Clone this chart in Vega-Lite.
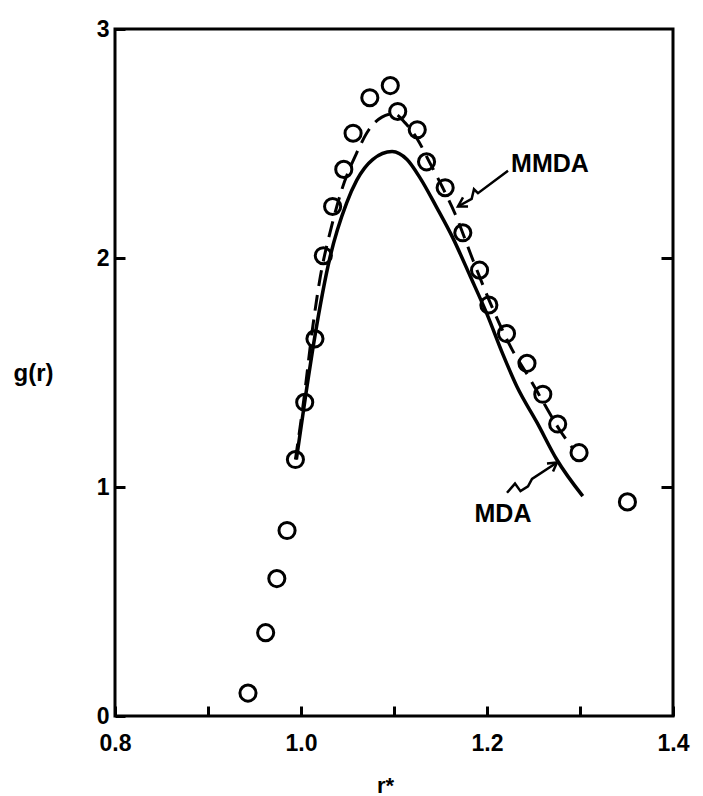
{
  "$schema": "https://vega.github.io/schema/vega-lite/v6.json",
  "width": 558,
  "height": 687,
  "autosize": {"type": "none"},
  "padding": {"left": 115, "top": 29, "right": 30, "bottom": 80},
  "background": "white",
  "config": {
    "view": {"stroke": "black", "strokeWidth": 3},
    "font": "Liberation Sans"
  },
  "datasets": {
    "obs": [
      {"x": 0.943, "y": 0.10}, {"x": 0.962, "y": 0.364}, {"x": 0.974, "y": 0.60},
      {"x": 0.985, "y": 0.81}, {"x": 0.994, "y": 1.12}, {"x": 1.004, "y": 1.37},
      {"x": 1.015, "y": 1.647}, {"x": 1.024, "y": 2.01}, {"x": 1.034, "y": 2.225},
      {"x": 1.046, "y": 2.387}, {"x": 1.056, "y": 2.545}, {"x": 1.074, "y": 2.70},
      {"x": 1.096, "y": 2.753}, {"x": 1.104, "y": 2.64}, {"x": 1.125, "y": 2.56},
      {"x": 1.135, "y": 2.42}, {"x": 1.155, "y": 2.307}, {"x": 1.174, "y": 2.11},
      {"x": 1.192, "y": 1.947}, {"x": 1.202, "y": 1.795}, {"x": 1.221, "y": 1.67},
      {"x": 1.243, "y": 1.54}, {"x": 1.260, "y": 1.405}, {"x": 1.276, "y": 1.275},
      {"x": 1.299, "y": 1.15}, {"x": 1.351, "y": 0.935}
    ],
    "mmda": [
      {"x": 0.994, "y": 1.12}, {"x": 1.003, "y": 1.38}, {"x": 1.012, "y": 1.68},
      {"x": 1.020, "y": 1.90}, {"x": 1.033, "y": 2.14}, {"x": 1.044, "y": 2.30},
      {"x": 1.060, "y": 2.46}, {"x": 1.073, "y": 2.56}, {"x": 1.087, "y": 2.615},
      {"x": 1.100, "y": 2.63}, {"x": 1.112, "y": 2.59}, {"x": 1.125, "y": 2.52},
      {"x": 1.138, "y": 2.42}, {"x": 1.152, "y": 2.31}, {"x": 1.166, "y": 2.19},
      {"x": 1.185, "y": 1.99}, {"x": 1.205, "y": 1.79}, {"x": 1.227, "y": 1.60},
      {"x": 1.245, "y": 1.48}, {"x": 1.262, "y": 1.36}, {"x": 1.278, "y": 1.25},
      {"x": 1.292, "y": 1.17}
    ],
    "mda": [
      {"x": 0.995, "y": 1.12}, {"x": 1.005, "y": 1.40}, {"x": 1.015, "y": 1.66},
      {"x": 1.031, "y": 2.00}, {"x": 1.049, "y": 2.24}, {"x": 1.060, "y": 2.34},
      {"x": 1.077, "y": 2.43}, {"x": 1.098, "y": 2.465}, {"x": 1.114, "y": 2.43},
      {"x": 1.128, "y": 2.35}, {"x": 1.146, "y": 2.22}, {"x": 1.163, "y": 2.09},
      {"x": 1.182, "y": 1.92}, {"x": 1.200, "y": 1.755}, {"x": 1.217, "y": 1.58},
      {"x": 1.232, "y": 1.44}, {"x": 1.254, "y": 1.28}, {"x": 1.275, "y": 1.12},
      {"x": 1.303, "y": 0.96}
    ],
    "arrows": [
      {"seg": "a1", "o": 1, "x": 1.2226, "y": 2.381},
      {"seg": "a1", "o": 2, "x": 1.1903, "y": 2.283},
      {"seg": "a1", "o": 3, "x": 1.1860, "y": 2.300},
      {"seg": "a1", "o": 4, "x": 1.1835, "y": 2.258},
      {"seg": "a1", "o": 5, "x": 1.1688, "y": 2.225},
      {"seg": "a1h", "o": 1, "x": 1.1796, "y": 2.225},
      {"seg": "a1h", "o": 2, "x": 1.1688, "y": 2.225},
      {"seg": "a1h", "o": 3, "x": 1.1742, "y": 2.265},
      {"seg": "a2", "o": 1, "x": 1.2215, "y": 0.975},
      {"seg": "a2", "o": 2, "x": 1.2301, "y": 1.015},
      {"seg": "a2", "o": 3, "x": 1.2360, "y": 0.982},
      {"seg": "a2", "o": 4, "x": 1.2441, "y": 1.003},
      {"seg": "a2", "o": 5, "x": 1.2484, "y": 1.035},
      {"seg": "a2", "o": 6, "x": 1.2753, "y": 1.107},
      {"seg": "a2h", "o": 1, "x": 1.2645, "y": 1.103},
      {"seg": "a2h", "o": 2, "x": 1.2753, "y": 1.107},
      {"seg": "a2h", "o": 3, "x": 1.2710, "y": 1.068}
    ],
    "labels": [
      {"x": 1.2677, "y": 2.412, "label": "MMDA"},
      {"x": 1.2172, "y": 0.883, "label": "MDA"}
    ]
  },
  "encoding": {
    "x": {
      "field": "x", "type": "quantitative",
      "scale": {"domain": [0.8, 1.4], "nice": false, "zero": false},
      "axis": {
        "orient": "bottom",
        "values": [0.8, 0.9, 1.0, 1.1, 1.2, 1.3, 1.4],
        "labelExpr": "(round(datum.value*10) % 2 == 0) ? format(datum.value, '.1f') : ''",
        "domain": false, "grid": false,
        "tickSize": -10, "tickWidth": 3, "tickColor": "black",
        "labelPadding": 26, "labelFontSize": 23, "labelFontWeight": "bold",
        "labelColor": "black", "labelDx": 6, "labelFlush": false, "labelOverlap": false,
        "title": "r*", "titleFontSize": 22, "titleFontWeight": "bold", "titleColor": "black",
        "titleX": 270, "titleY": 69, "titleAlign": "center", "titleBaseline": "middle"
      }
    }
  },
  "layer": [
    {
      "data": {"name": "mmda"},
      "mark": {"type": "line", "color": "black", "strokeWidth": 3, "strokeDash": [16, 9], "interpolate": "monotone"},
      "encoding": {
        "y": {
          "field": "y", "type": "quantitative",
          "scale": {"domain": [0, 3], "nice": false, "zero": false},
          "axis": {
            "orient": "left",
            "values": [0, 1, 2, 3], "format": "d",
            "domain": false, "grid": false,
            "tickSize": -10, "tickWidth": 3, "tickColor": "black",
            "labelPadding": 16, "labelFontSize": 23, "labelFontWeight": "bold",
            "labelColor": "black", "labelFlush": false, "labelOverlap": false,
            "title": "g(r)", "titleFontSize": 24, "titleFontWeight": "bold", "titleColor": "black",
            "titleAngle": 0, "titleX": -82, "titleY": 344, "titleAlign": "center", "titleBaseline": "middle"
          }
        }
      }
    },
    {
      "data": {"name": "mda"},
      "mark": {"type": "line", "color": "black", "strokeWidth": 3.5, "interpolate": "monotone"},
      "encoding": {
        "y": {
          "field": "y", "type": "quantitative",
          "axis": {
            "orient": "right", "values": [1, 2], "labels": false,
            "domain": false, "grid": false, "title": null,
            "tickSize": -12, "tickWidth": 3, "tickColor": "black"
          }
        }
      }
    },
    {
      "data": {"name": "obs"},
      "mark": {"type": "point", "shape": "circle", "filled": false, "color": "black", "strokeWidth": 3, "size": 260, "opacity": 1},
      "encoding": {
        "y": {"field": "y", "type": "quantitative", "axis": null}
      }
    },
    {
      "data": {"name": "arrows"},
      "mark": {"type": "line", "color": "black", "strokeWidth": 2.5, "interpolate": "linear"},
      "encoding": {
        "y": {"field": "y", "type": "quantitative", "axis": null},
        "detail": {"field": "seg", "type": "nominal"},
        "order": {"field": "o", "type": "quantitative"}
      }
    },
    {
      "data": {"name": "labels"},
      "mark": {"type": "text", "color": "black", "fontSize": 25, "fontWeight": "bold", "align": "center", "baseline": "middle", "font": "Liberation Sans"},
      "encoding": {
        "y": {"field": "y", "type": "quantitative", "axis": null},
        "text": {"field": "label", "type": "nominal"}
      }
    }
  ],
  "resolve": {"axis": {"y": "independent"}}
}
